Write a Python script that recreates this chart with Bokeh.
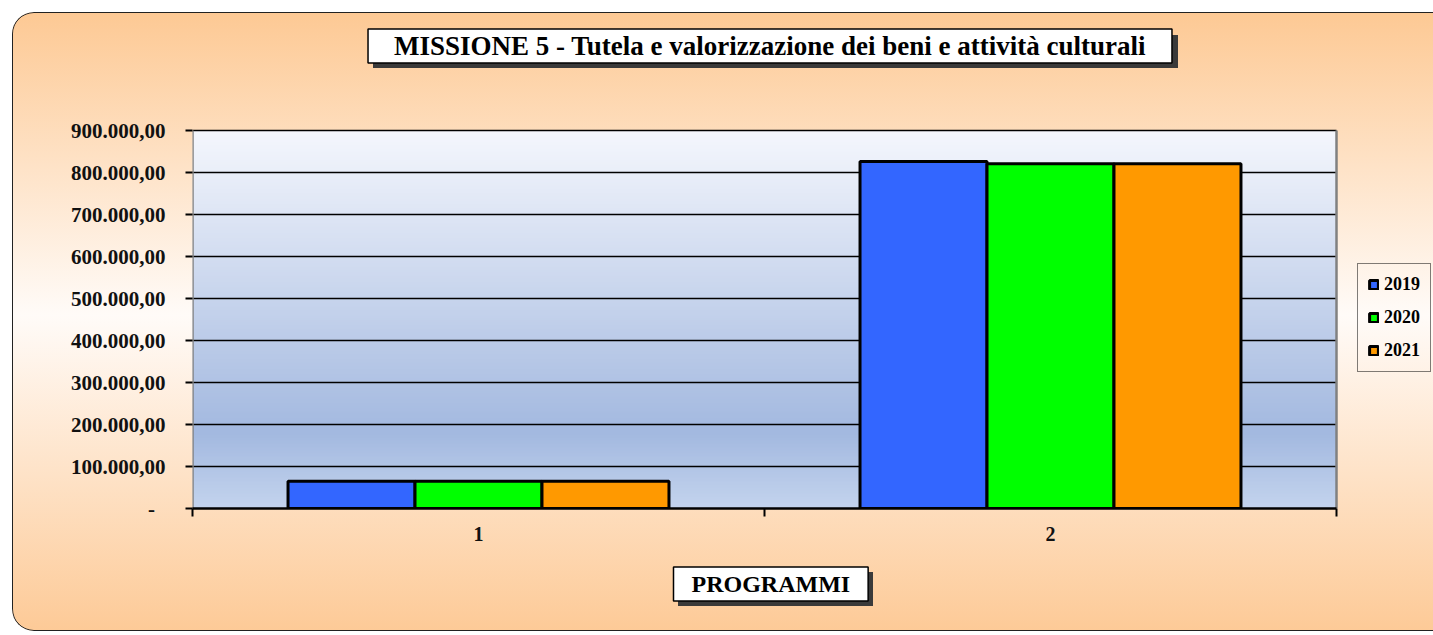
import numpy as np
from bokeh.plotting import figure
from bokeh.models import FixedTicker, Legend, LegendItem, Range1d, ColumnDataSource, Title, Label
from bokeh.embed import file_html
from bokeh.resources import INLINE

# ---------------- data ----------------
categories = ["1", "2"]
years = ["2019", "2020", "2021"]
values_2019 = [65000, 826000]
values_2020 = [65000, 821000]
values_2021 = [65000, 821000]
bar_colors = ["#3366FF", "#00FF00", "#FF9900"]
y_tick_values = [0, 100000, 200000, 300000, 400000, 500000, 600000, 700000, 800000, 900000]
y_tick_labels = ["-\u00a0\u00a0", "100.000,00", "200.000,00", "300.000,00", "400.000,00",
                 "500.000,00", "600.000,00", "700.000,00", "800.000,00", "900.000,00"]
title_text = "MISSIONE 5 - Tutela e valorizzazione dei beni e attività culturali"
x_axis_title = "PROGRAMMI"

FONT = "Liberation Serif"

# layout constants (pixels)
FIG_W, FIG_H = 1421, 619
LEFT, BOTTOM = 180, 123
AREA_W, AREA_H = 1144, 378        # size of the plotting area
FRAME_W = FIG_W - LEFT            # frame extends to the right edge (room for the legend)
FRAME_H = FIG_H - BOTTOM          # and to the top edge (room for the title)
x_lo, x_hi = 0.5, 0.5 + len(categories)
x_end = x_lo + (x_hi - x_lo) * FRAME_W / AREA_W
y_lo, y_hi = y_tick_values[0], y_tick_values[-1]
y_end = y_lo + (y_hi - y_lo) * FRAME_H / AREA_H

p = figure(width=FIG_W, height=FIG_H, output_backend="svg", toolbar_location=None,
           x_range=Range1d(x_lo, x_end), y_range=Range1d(y_lo, y_end),
           min_border_left=LEFT, min_border_right=0, min_border_top=0, min_border_bottom=BOTTOM,
           background_fill_color=None, border_fill_color=None, outline_line_color=None)
p.margin = (12, 0, 0, 12)

# page background (gradient) + drop shadows of the two text boxes
shadow = "linear-gradient(#3a3a3a, #3a3a3a)"
p.styles = {
    "background": (
        f"{shadow} 361px 23px / 805px 33px no-repeat, "
        f"{shadow} 666px 560px / 195px 34px no-repeat, "
        "linear-gradient(to bottom, #FDC994 0%, #FFFBF8 49%, #FDCA97 100%)"
    ),
    "border-radius": "22px 0 0 22px",
    "box-shadow": "inset 1px 0 0 0 #222, inset 0 1px 0 0 #222, inset 0 -1px 0 0 #222",
}

# plot-area gradient background
n = 256
frac_top = 1.0 - np.linspace(0, 1, n)  # row 0 is the bottom
stops = [0.0, 0.8, 1.0]
rr = np.interp(frac_top, stops, [245, 163, 196])
gg = np.interp(frac_top, stops, [247, 185, 212])
bb = np.interp(frac_top, stops, [253, 224, 238])
img = np.empty((n, 1), dtype=np.uint32)
view = img.view(dtype=np.uint8).reshape((n, 1, 4))
view[:, 0, 0] = rr.astype(np.uint8)
view[:, 0, 1] = gg.astype(np.uint8)
view[:, 0, 2] = bb.astype(np.uint8)
view[:, 0, 3] = 255
p.image_rgba(image=[img], x=x_lo, y=y_lo, dw=x_hi - x_lo, dh=y_hi - y_lo, level="image")

# horizontal grid lines and side borders of the plotting area
p.segment(x0=x_lo, x1=x_hi, y0=y_tick_values[1:], y1=y_tick_values[1:],
          line_color="black", line_width=1.6, level="underlay")
p.segment(x0=[x_lo, x_hi], x1=[x_lo, x_hi], y0=y_lo, y1=y_hi,
          line_color="#808080", line_width=2.5, level="underlay")

# bars
x_centers = np.arange(1, len(categories) + 1)
bar_w = 0.222
offsets = [-bar_w, 0.0, bar_w]
series = [values_2019, values_2020, values_2021]
renderers = []
for vals, color, off in zip(series, bar_colors, offsets):
    src = ColumnDataSource(dict(x=x_centers + off, top=vals))
    r = p.vbar(x="x", top="top", width=bar_w, source=src, fill_color=color,
               line_color="black", line_width=3)
    renderers.append(r)

# y axis
p.yaxis.bounds = (y_lo, y_hi)
p.yaxis.ticker = FixedTicker(ticks=y_tick_values)
p.yaxis.major_label_overrides = {v: s for v, s in zip(y_tick_values, y_tick_labels)}
p.yaxis.axis_line_color = None
p.yaxis.major_tick_in = 0
p.yaxis.major_tick_out = 7
p.yaxis.major_tick_line_width = 2
p.yaxis.minor_tick_line_color = None
p.yaxis.major_label_text_font = FONT
p.yaxis.major_label_text_font_style = "bold"
p.yaxis.major_label_text_font_size = "21px"
p.yaxis.major_label_text_color = "#111111"
p.yaxis.major_label_standoff = 20

# x axis
p.xaxis.bounds = (x_lo, x_hi)
p.xaxis.ticker = FixedTicker(ticks=list(x_centers), minor_ticks=list(np.arange(x_lo, x_hi + 0.01, 1.0)))
p.xaxis.major_label_overrides = {int(x): c for x, c in zip(x_centers, categories)}
p.xaxis.axis_line_width = 2.5
p.xaxis.major_tick_in = 0
p.xaxis.major_tick_out = 0
p.xaxis.minor_tick_in = 0
p.xaxis.minor_tick_out = 8
p.xaxis.minor_tick_line_width = 2
p.xaxis.minor_tick_line_color = "black"
p.xaxis.major_label_text_font = FONT
p.xaxis.major_label_text_font_style = "bold"
p.xaxis.major_label_text_font_size = "20px"
p.xaxis.major_label_text_color = "#111111"
p.xaxis.major_label_standoff = 10

p.xgrid.visible = False
p.ygrid.visible = False

# legend (inside the extended frame, right of the plotting area)
legend = Legend(items=[LegendItem(label=y, renderers=[r]) for y, r in zip(years, renderers)],
                location=(1165, 136), orientation="vertical",
                border_line_color="black", border_line_width=1,
                background_fill_alpha=0, margin=0, padding=10, spacing=12,
                label_height=20, glyph_height=11, glyph_width=11, label_standoff=5,
                label_text_font=FONT, label_text_font_style="bold", label_text_font_size="18px",
                label_text_color="black")
p.add_layout(legend)

# chart title: boxed label inside the extended frame, above the plotting area
p.add_layout(Label(text=title_text, x=577.5, y=462.5, x_units="screen", y_units="screen",
                   text_align="center", text_baseline="middle",
                   text_font=FONT, text_font_style="bold", text_font_size="27px", text_color="black",
                   background_fill_color="white", border_line_color="black", border_line_width=1.5,
                   padding=dict(left=26, right=26, top=2, bottom=2)))

# x axis title: boxed title below the axis
p.add_layout(Title(text=x_axis_title, align="left", text_font_size="24px", offset=481, standoff=43,
                   text_font=FONT, text_font_style="bold", text_color="black",
                   background_fill_color="white", border_line_color="black", border_line_width=1.5,
                   padding=dict(left=18, right=18, top=4, bottom=4)), "below")

open("out.html", "w").write(file_html(p, INLINE))
